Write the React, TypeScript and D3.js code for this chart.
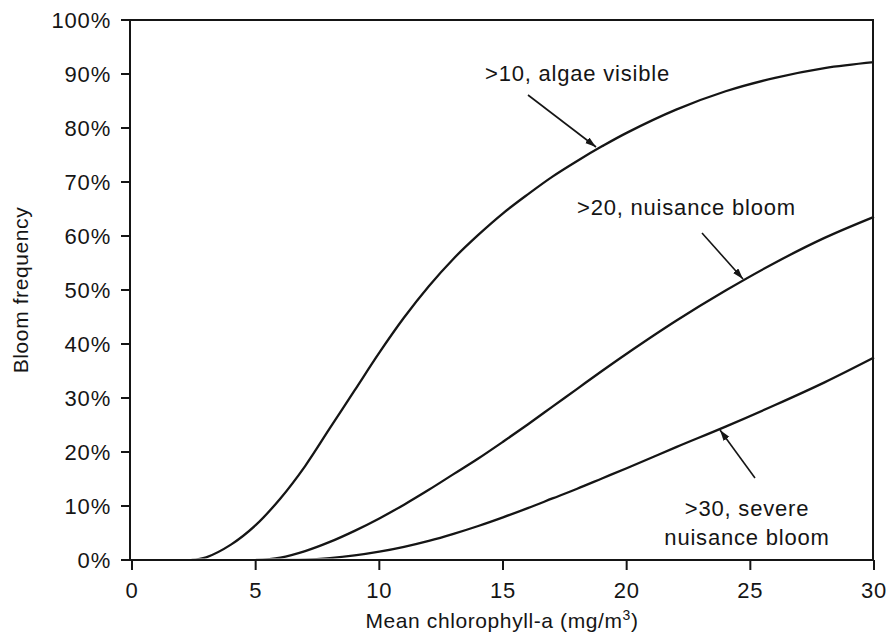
import React from "react";
import * as d3 from "d3";

const chlorophyll = [0, 1, 2, 2.4, 3, 4, 5, 6, 7, 8, 9, 10, 11, 12, 13, 14, 15, 16, 17, 18, 19, 20, 22, 24, 26, 28, 30];
const algaeVisible = [0, 0, 0, 0, 0.5, 2.85, 6.45, 11.4, 17.4, 24.4, 31.4, 38.4, 44.9, 50.7, 55.8, 60.2, 64.2, 67.7, 71.0, 73.9, 76.6, 79.1, 83.4, 86.8, 89.3, 91.1, 92.2];
const nuisanceBloom = [0, 0, 0, 0, 0, 0, 0, 0.45, 1.65, 3.35, 5.4, 7.7, 10.25, 13.0, 15.9, 18.8, 21.9, 25.1, 28.4, 31.7, 35.0, 38.2, 44.3, 49.9, 55.05, 59.65, 63.55];
const severeBloom = [0, 0, 0, 0, 0, 0, 0, 0, 0.05, 0.35, 0.85, 1.55, 2.45, 3.55, 4.85, 6.3, 7.9, 9.6, 11.4, 13.2, 15.1, 17.0, 20.9, 24.7, 28.7, 32.9, 37.5];

const xTicks = [0, 5, 10, 15, 20, 25, 30];
const yTicks = [0, 10, 20, 30, 40, 50, 60, 70, 80, 90, 100];

const FONT = "'Liberation Sans', Arial, Helvetica, sans-serif";
const INK = "#151515";

export default function App() {
  const width = 887;
  const height = 640;
  const x = d3.scaleLinear().domain([0, 30]).range([132, 874]);
  const y = d3.scaleLinear().domain([0, 100]).range([560, 20]);
  const line = d3
    .line<number>()
    .x((_, i) => x(chlorophyll[i]))
    .y((d) => Math.min(y(d), y(0)))
    .curve(d3.curveCatmullRom.alpha(0.5));

  const series = [algaeVisible, nuisanceBloom, severeBloom];
  const starts = series.map((s) => {
    let k = 0;
    s.forEach((v, i) => {
      if (v === 0) k = i;
    });
    return chlorophyll[k];
  });

  const textStyle = { fontFamily: FONT, fontSize: 22, fill: INK, letterSpacing: 0.8 } as React.CSSProperties;

  return (
    <svg
      width={width}
      height={height}
      style={{ position: "absolute", left: 0, top: 0, background: "#fff" }}
    >
      <defs>
        <marker
          id="arrow"
          markerUnits="userSpaceOnUse"
          markerWidth={12}
          markerHeight={8}
          refX={11}
          refY={3.5}
          orient="auto"
        >
          <path d="M0,0 L11,3.5 L0,7 z" fill={INK} />
        </marker>
        {starts.map((s, i) => (
          <clipPath id={"clip" + i} key={i}>
            <rect x={x(s)} y={0} width={width - x(s)} height={y(0) - 1.5} />
          </clipPath>
        ))}
      </defs>

      {/* curves */}
      {series.map((s, i) => (
        <path
          key={i}
          d={line(s) || ""}
          fill="none"
          stroke={INK}
          strokeWidth={2.3}
          clipPath={`url(#clip${i})`}
        />
      ))}

      {/* frame */}
      <rect
        x={x(0) - 2}
        y={y(100)}
        width={x(30) - x(0) + 1}
        height={y(0) - y(100)}
        fill="none"
        stroke={INK}
        strokeWidth={2}
      />

      {/* y ticks */}
      {yTicks.map((t) => (
        <g key={"y" + t}>
          <line x1={x(0) - 11} x2={x(0) - 2} y1={y(t)} y2={y(t)} stroke={INK} strokeWidth={2} />
          <text x={111} y={y(t) + 8} textAnchor="end" style={textStyle}>
            {t + "%"}
          </text>
        </g>
      ))}

      {/* x ticks */}
      {xTicks.map((t) => (
        <g key={"x" + t}>
          <line x1={x(t)} x2={x(t)} y1={y(0)} y2={y(0) + 10} stroke={INK} strokeWidth={2} />
          <text x={x(t)} y={598} textAnchor="middle" style={textStyle}>
            {t}
          </text>
        </g>
      ))}

      {/* axis titles */}
      <text x={502} y={628} textAnchor="middle" style={{ ...textStyle, fontSize: 21, letterSpacing: 0.6 }}>
        Mean chlorophyll-a (mg/m
        <tspan dy={-8} style={{ fontSize: 14 }}>3</tspan>
        <tspan dy={8}>)</tspan>
      </text>
      <text
        transform={`translate(28, 290) rotate(-90)`}
        textAnchor="middle"
        style={{ ...textStyle, fontSize: 21, letterSpacing: 0.6 }}
      >
        Bloom frequency
      </text>

      {/* annotations */}
      <text x={485} y={81} style={textStyle}>
        &gt;10, algae visible
      </text>
      <line x1={528} y1={95} x2={596} y2={147} stroke={INK} strokeWidth={1.6} markerEnd="url(#arrow)" />

      <text x={577} y={215} style={textStyle}>
        &gt;20, nuisance bloom
      </text>
      <line x1={702} y1={233} x2={743} y2={279} stroke={INK} strokeWidth={1.6} markerEnd="url(#arrow)" />

      <line x1={755} y1={478} x2={720} y2={430} stroke={INK} strokeWidth={1.6} markerEnd="url(#arrow)" />
      <text x={747} y={516} textAnchor="middle" style={textStyle}>
        &gt;30, severe
      </text>
      <text x={747} y={545} textAnchor="middle" style={textStyle}>
        nuisance bloom
      </text>
    </svg>
  );
}
